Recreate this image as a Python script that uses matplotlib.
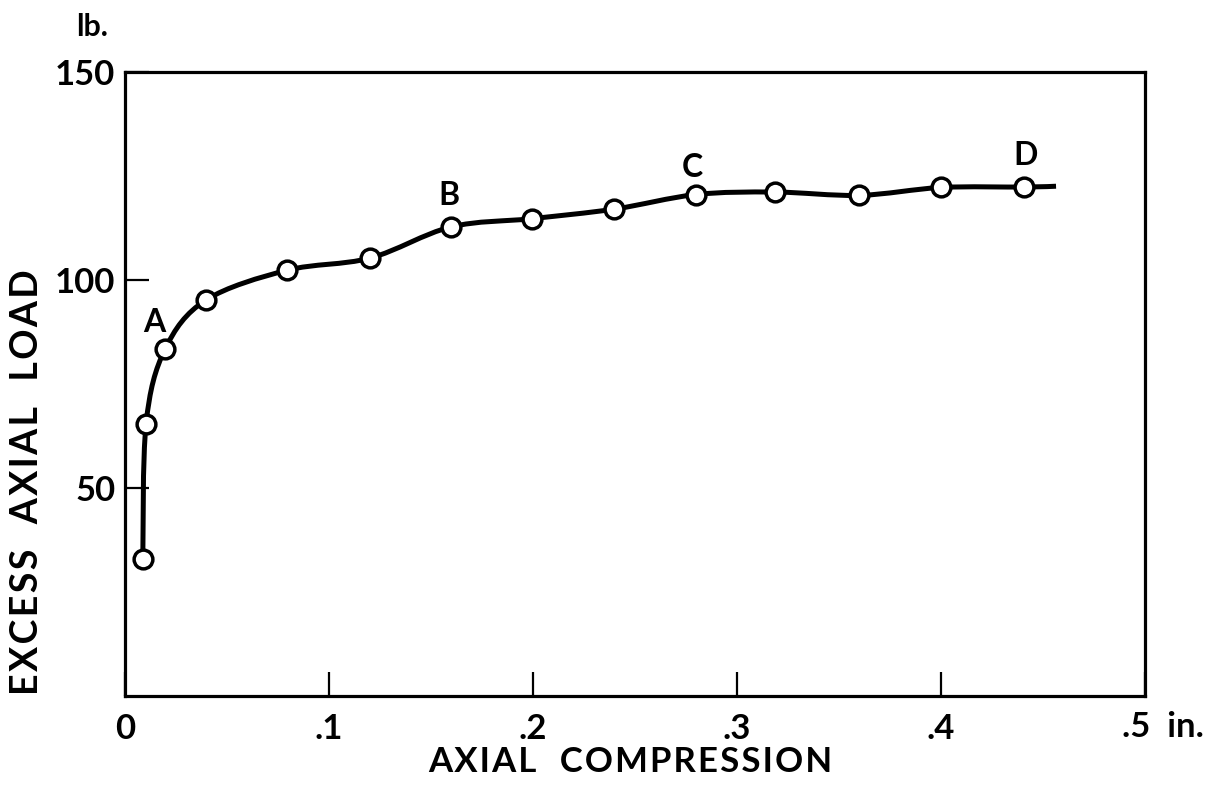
import numpy as np
import matplotlib
matplotlib.use("Agg")
import matplotlib.pyplot as plt
from matplotlib.path import Path
from matplotlib.patches import PathPatch

plt.rcParams['font.family'] = ['Lato', 'DejaVu Sans']
plt.rcParams['font.weight'] = 'bold'

# measured points (axial compression in inches, excess load in lb)
compression = [0.0087, 0.0103, 0.0196, 0.0396, 0.0795, 0.120, 0.1597,
               0.1994, 0.2399, 0.2799, 0.3186, 0.360, 0.400, 0.4408]
load = [32.9, 65.4, 83.4, 95.2, 102.4, 105.3, 112.8,
        114.8, 117.1, 120.6, 121.2, 120.4, 122.3, 122.4]
# curve runs on a bit past the last point
curve_end = (0.4564, 122.6)

point_labels = ['A', 'B', 'C', 'D']
label_x = [0.0142, 0.159, 0.278, 0.4417]
label_y = [89.9, 120.4, 127.2, 130.0]

x_ticks = [0, 0.1, 0.2, 0.3, 0.4, 0.5]
x_tick_labels = ['0', '.1', '.2', '.3', '.4', '']
y_ticks = [50, 100, 150]
y_tick_labels = ['50', '100', '150']


def smooth_path(xs, ys):
    # Catmull-Rom style bezier through the given vertices
    p = np.column_stack([xs, ys])
    pad = np.vstack([p[0], p, p[-1]])
    verts = [p[0]]
    codes = [Path.MOVETO]
    for i in range(len(p) - 1):
        p0, p1, p2, p3 = pad[i], pad[i + 1], pad[i + 2], pad[i + 3]
        c1 = p1 + (p2 - p0) / 6
        c2 = p2 - (p3 - p1) / 6
        verts += [c1, c2, p2]
        codes += [Path.CURVE4] * 3
    return Path(verts, codes)


def spaced(s):
    # loose lettering like the hand-lettered original
    return '\u200a'.join(s)


fig = plt.figure(figsize=(12.2, 7.85), dpi=100)
ax = fig.add_axes([0.1025, 0.1134, 0.836, 0.7945])

cx = compression + [curve_end[0]]
cy = load + [curve_end[1]]
ax.add_patch(PathPatch(smooth_path(cx, cy), fill=False, edgecolor='black',
                       lw=3.6, capstyle='butt', zorder=2))
ax.plot(compression, load, 'o', ms=13.5, mfc='white', mec='black', mew=2.5,
        zorder=3)

for t, x, y in zip(point_labels, label_x, label_y):
    ax.text(x, y, t, fontsize=23, ha='center', va='center')

ax.set_xlim(0, 0.5)
ax.set_ylim(0, 150)
ax.set_xticks(x_ticks)
ax.set_xticklabels(x_tick_labels)
ax.set_yticks(y_ticks)
ax.set_yticklabels(y_tick_labels)
ax.tick_params(direction='in', length=17, width=1.6, labelsize=25, color='black')
ax.tick_params(axis='x', pad=12)
ax.tick_params(axis='y', pad=7)
for s in ax.spines.values():
    s.set_linewidth(2.3)

fig.text(1122 / 1220, 1 - 727 / 785, '.5  in.', fontsize=25, ha='left', va='center')
fig.text(92 / 1220, 1 - 27 / 785, 'lb.', fontsize=22, ha='center', va='center')

fig.text(630 / 1220, 1 - 762 / 785, spaced('AXIAL  COMPRESSION'), fontsize=25,
         ha='center', va='center')
fig.text(27 / 1220, 1 - 482 / 785, spaced('EXCESS  AXIAL  LOAD'), fontsize=27,
         ha='center', va='center', rotation=90)

fig.savefig('out.png', dpi=100)
